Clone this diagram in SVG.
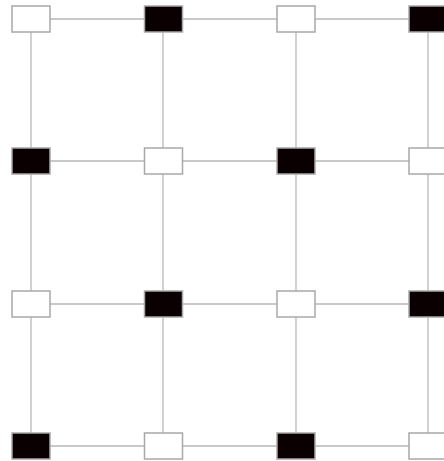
<svg xmlns="http://www.w3.org/2000/svg" width="444" height="461" viewBox="0 0 444 461">
<style>
.e{stroke:#b8b8b8;stroke-width:1.3;fill:none}
.n{stroke:#a8a8a8;stroke-width:1.5}
.w{fill:#ffffff}
.b{fill:#0a0002}
</style>
<rect width="444" height="461" fill="#fff"/>
<g id="edges">
<path class="e" d="M31 19H428M31 161H428M31 304H428M31 446H428M31 19V446M163 19V446M296 19V446M428 19V446"/>
</g>
<g id="n00"><rect class="n w" x="12" y="6" width="38" height="26"/></g>
<g id="n01"><rect class="n b" x="144.5" y="6" width="38" height="26"/></g>
<g id="n02"><rect class="n w" x="277" y="6" width="38" height="26"/></g>
<g id="n03"><rect class="n b" x="409" y="6" width="38" height="26"/></g>
<g id="n10"><rect class="n b" x="12" y="148" width="38" height="26"/></g>
<g id="n11"><rect class="n w" x="144.5" y="148" width="38" height="26"/></g>
<g id="n12"><rect class="n b" x="277" y="148" width="38" height="26"/></g>
<g id="n13"><rect class="n w" x="409" y="148" width="38" height="26"/></g>
<g id="n20"><rect class="n w" x="12" y="291" width="38" height="26"/></g>
<g id="n21"><rect class="n b" x="144.5" y="291" width="38" height="26"/></g>
<g id="n22"><rect class="n w" x="277" y="291" width="38" height="26"/></g>
<g id="n23"><rect class="n b" x="409" y="291" width="38" height="26"/></g>
<g id="n30"><rect class="n b" x="12" y="433" width="38" height="26"/></g>
<g id="n31"><rect class="n w" x="144.5" y="433" width="38" height="26"/></g>
<g id="n32"><rect class="n b" x="277" y="433" width="38" height="26"/></g>
<g id="n33"><rect class="n w" x="409" y="433" width="38" height="26"/></g>
</svg>
